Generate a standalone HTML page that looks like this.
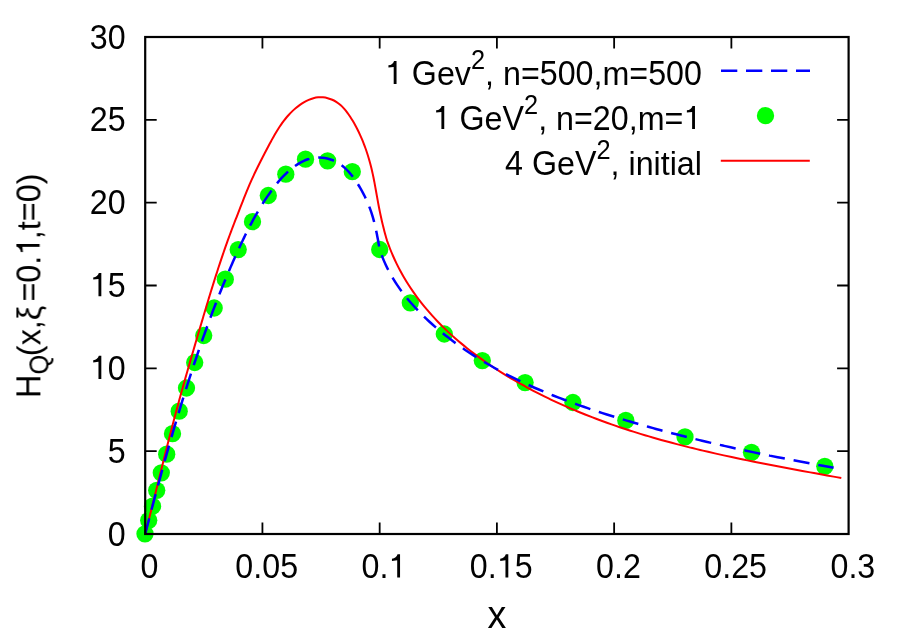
<!DOCTYPE html>
<html><head><meta charset="utf-8"><title>plot</title>
<style>
html,body{margin:0;padding:0;background:#fff;}
body{width:900px;height:631px;overflow:hidden;font-family:"Liberation Sans",sans-serif;}
svg{display:block;}
text{font-family:"Liberation Sans",sans-serif;fill:#000;}
</style></head><body>
<svg width="900" height="631" viewBox="0 0 900 631">
<rect x="0" y="0" width="900" height="631" fill="#fff"/>
<g fill="#00ff00"><circle cx="145.0" cy="533.8" r="8.65"/><circle cx="148.7" cy="520.3" r="8.65"/><circle cx="152.5" cy="506.2" r="8.65"/><circle cx="156.7" cy="490.3" r="8.65"/><circle cx="161.3" cy="472.8" r="8.65"/><circle cx="166.7" cy="454.2" r="8.65"/><circle cx="172.5" cy="433.7" r="8.65"/><circle cx="179.2" cy="411.2" r="8.65"/><circle cx="186.5" cy="388.0" r="8.65"/><circle cx="194.7" cy="362.5" r="8.65"/><circle cx="203.7" cy="335.5" r="8.65"/><circle cx="214.2" cy="308.0" r="8.65"/><circle cx="225.3" cy="279.2" r="8.65"/><circle cx="238.2" cy="249.6" r="8.65"/><circle cx="252.5" cy="221.7" r="8.65"/><circle cx="268.3" cy="195.5" r="8.65"/><circle cx="285.8" cy="174.2" r="8.65"/><circle cx="305.5" cy="159.2" r="8.65"/><circle cx="327.6" cy="160.8" r="8.65"/><circle cx="352.3" cy="171.7" r="8.65"/><circle cx="379.7" cy="249.5" r="8.65"/><circle cx="410.3" cy="302.8" r="8.65"/><circle cx="444.3" cy="334.0" r="8.65"/><circle cx="482.3" cy="360.6" r="8.65"/><circle cx="525.1" cy="382.6" r="8.65"/><circle cx="572.9" cy="402.5" r="8.65"/><circle cx="625.8" cy="420.4" r="8.65"/><circle cx="685.0" cy="436.9" r="8.65"/><circle cx="751.5" cy="452.3" r="8.65"/><circle cx="824.8" cy="466.3" r="8.65"/></g>
<path d="M145.20 534.00C145.41 533.19 146.03 530.76 146.44 529.14C146.85 527.52 147.26 525.90 147.67 524.28C148.08 522.66 148.49 521.04 148.90 519.42C149.31 517.80 149.71 516.18 150.12 514.56C150.53 512.94 150.93 511.32 151.34 509.71C151.74 508.09 152.14 506.47 152.55 504.85C152.95 503.23 153.35 501.61 153.75 499.99C154.15 498.38 154.56 496.76 154.96 495.14C155.36 493.52 155.76 491.91 156.16 490.29C156.56 488.67 156.96 487.05 157.36 485.44C157.76 483.82 158.16 482.20 158.56 480.59C158.96 478.97 159.36 477.35 159.76 475.74C160.17 474.12 160.57 472.51 160.97 470.89C161.37 469.27 161.77 467.66 162.17 466.04C162.58 464.43 162.98 462.81 163.38 461.20C163.79 459.58 164.19 457.97 164.59 456.35C165.00 454.74 165.40 453.12 165.81 451.51C166.22 449.90 166.63 448.28 167.03 446.67C167.44 445.06 167.85 443.44 168.26 441.83C168.67 440.22 169.09 438.60 169.50 436.99C169.91 435.38 170.33 433.77 170.74 432.15C171.16 430.54 171.58 428.93 172.00 427.32C172.42 425.71 172.84 424.10 173.26 422.48C173.68 420.87 174.11 419.26 174.54 417.65C174.96 416.04 175.39 414.43 175.82 412.82C176.25 411.21 176.68 409.60 177.12 407.99C177.55 406.38 177.99 404.77 178.43 403.16C178.86 401.55 179.31 399.95 179.75 398.34C180.19 396.73 180.63 395.12 181.08 393.51C181.52 391.90 181.97 390.30 182.42 388.69C182.87 387.08 183.32 385.47 183.77 383.87C184.22 382.26 184.68 380.65 185.13 379.05C185.59 377.44 186.04 375.84 186.50 374.23C186.96 372.62 187.42 371.02 187.87 369.41C188.33 367.81 188.80 366.20 189.26 364.60C189.72 363.00 190.18 361.39 190.65 359.79C191.11 358.18 191.58 356.58 192.04 354.98C192.51 353.37 192.98 351.77 193.44 350.17C193.91 348.56 194.38 346.96 194.85 345.36C195.32 343.76 195.79 342.16 196.26 340.56C196.73 338.95 197.20 337.35 197.67 335.75C198.15 334.15 198.62 332.55 199.09 330.95C199.56 329.35 200.04 327.75 200.51 326.15C200.98 324.55 201.46 322.95 201.93 321.35C202.40 319.76 202.88 318.16 203.35 316.56C203.83 314.96 204.30 313.36 204.78 311.77C205.26 310.17 205.73 308.57 206.21 306.98C206.69 305.38 207.17 303.79 207.65 302.19C208.13 300.60 208.62 299.00 209.10 297.41C209.59 295.82 210.07 294.22 210.56 292.63C211.05 291.04 211.54 289.45 212.03 287.86C212.53 286.27 213.02 284.68 213.52 283.09C214.02 281.50 214.52 279.91 215.02 278.32C215.52 276.74 216.03 275.15 216.54 273.57C217.05 271.98 217.56 270.40 218.07 268.81C218.59 267.23 219.11 265.65 219.63 264.07C220.15 262.49 220.68 260.91 221.21 259.33C221.74 257.75 222.27 256.17 222.81 254.59C223.34 253.02 223.89 251.44 224.43 249.87C224.98 248.29 225.53 246.72 226.08 245.15C226.64 243.58 227.20 242.01 227.76 240.44C228.33 238.87 228.90 237.31 229.47 235.74C230.05 234.17 230.63 232.61 231.21 231.05C231.80 229.49 232.39 227.92 232.99 226.37C233.58 224.81 234.19 223.25 234.79 221.69C235.39 220.14 236.00 218.58 236.61 217.03C237.22 215.47 237.82 213.92 238.42 212.37C239.03 210.82 239.63 209.28 240.23 207.73C240.83 206.19 241.43 204.64 242.03 203.10C242.64 201.56 243.24 200.02 243.85 198.48C244.46 196.94 245.07 195.40 245.69 193.87C246.31 192.34 246.93 190.80 247.57 189.27C248.20 187.74 248.85 186.22 249.50 184.69C250.16 183.16 250.83 181.64 251.51 180.12C252.19 178.60 252.89 177.08 253.60 175.56C254.30 174.04 255.02 172.53 255.75 171.02C256.47 169.50 257.21 167.99 257.95 166.48C258.70 164.98 259.45 163.47 260.21 161.97C260.97 160.46 261.74 158.96 262.51 157.47C263.28 155.97 264.05 154.47 264.83 152.98C265.61 151.49 266.39 150.00 267.18 148.51C267.96 147.02 268.75 145.53 269.54 144.05C270.33 142.57 271.12 141.10 271.93 139.63C272.74 138.16 273.55 136.70 274.39 135.26C275.22 133.81 276.06 132.38 276.93 130.96C277.80 129.55 278.69 128.14 279.60 126.77C280.52 125.39 281.46 124.02 282.43 122.69C283.40 121.35 284.40 120.03 285.44 118.75C286.48 117.46 287.55 116.20 288.67 114.97C289.78 113.75 290.94 112.55 292.14 111.38C293.34 110.22 294.59 109.09 295.89 108.00C297.19 106.92 298.55 105.85 299.94 104.87C301.33 103.89 302.77 102.95 304.23 102.11C305.70 101.27 307.21 100.50 308.74 99.85C310.26 99.20 311.82 98.63 313.39 98.22C314.96 97.80 316.56 97.49 318.16 97.35C319.75 97.20 321.37 97.20 322.97 97.34C324.56 97.47 326.16 97.75 327.71 98.16C329.27 98.56 330.81 99.10 332.28 99.76C333.76 100.42 335.20 101.21 336.56 102.10C337.93 102.99 339.24 104.00 340.48 105.09C341.73 106.17 342.92 107.37 344.05 108.61C345.18 109.85 346.24 111.18 347.26 112.54C348.29 113.89 349.25 115.31 350.18 116.74C351.12 118.17 352.01 119.64 352.88 121.10C353.75 122.56 354.58 124.04 355.39 125.53C356.20 127.01 356.98 128.51 357.73 130.01C358.49 131.52 359.22 133.03 359.92 134.56C360.62 136.08 361.29 137.61 361.94 139.15C362.60 140.69 363.22 142.24 363.82 143.79C364.43 145.34 365.00 146.91 365.56 148.47C366.12 150.04 366.65 151.62 367.17 153.20C367.68 154.78 368.17 156.37 368.64 157.96C369.12 159.55 369.57 161.15 370.00 162.75C370.44 164.35 370.85 165.96 371.25 167.57C371.64 169.19 372.02 170.80 372.39 172.42C372.75 174.04 373.09 175.66 373.43 177.29C373.76 178.91 374.08 180.54 374.39 182.17C374.70 183.81 375.00 185.44 375.30 187.07C375.60 188.71 375.89 190.35 376.18 191.98C376.47 193.62 376.76 195.26 377.05 196.90C377.34 198.54 377.64 200.18 377.94 201.82C378.24 203.46 378.55 205.10 378.86 206.73C379.18 208.37 379.51 210.01 379.84 211.65C380.18 213.28 380.52 214.92 380.88 216.55C381.23 218.18 381.60 219.81 381.97 221.44C382.35 223.07 382.74 224.69 383.14 226.31C383.54 227.93 383.95 229.55 384.38 231.17C384.80 232.78 385.24 234.39 385.70 236.00C386.15 237.60 386.87 240.00 387.10 240.80C387.57 242.08 388.95 245.97 389.94 248.50C390.94 251.04 391.98 253.54 393.07 256.01C394.15 258.49 395.29 260.93 396.46 263.34C397.64 265.76 398.86 268.14 400.12 270.49C401.38 272.84 402.68 275.17 404.02 277.46C405.37 279.75 406.75 282.02 408.17 284.25C409.60 286.49 411.06 288.70 412.56 290.87C414.05 293.05 415.59 295.20 417.16 297.32C418.73 299.45 420.34 301.54 421.98 303.61C423.62 305.67 425.30 307.71 427.00 309.73C428.71 311.74 430.45 313.72 432.22 315.68C433.99 317.64 435.79 319.57 437.62 321.48C439.45 323.39 441.31 325.27 443.20 327.12C445.08 328.97 447.00 330.80 448.94 332.61C450.88 334.41 452.84 336.19 454.83 337.95C456.82 339.70 458.84 341.43 460.88 343.14C462.91 344.84 464.98 346.52 467.06 348.18C469.14 349.84 471.24 351.47 473.36 353.08C475.48 354.69 477.63 356.28 479.79 357.85C481.95 359.41 484.12 360.95 486.32 362.47C488.51 363.99 490.72 365.49 492.95 366.97C495.17 368.44 497.41 369.90 499.66 371.33C501.92 372.76 504.18 374.17 506.46 375.56C508.74 376.96 511.03 378.33 513.33 379.67C515.63 381.02 517.94 382.35 520.26 383.66C522.57 384.97 524.91 386.26 527.25 387.53C529.59 388.80 531.94 390.05 534.29 391.28C536.65 392.51 539.02 393.72 541.40 394.92C543.78 396.11 546.17 397.29 548.56 398.45C550.96 399.60 553.36 400.74 555.78 401.86C558.19 402.98 560.61 404.09 563.04 405.18C565.47 406.26 567.91 407.33 570.36 408.39C572.80 409.44 575.26 410.48 577.72 411.50C580.18 412.52 582.65 413.52 585.13 414.51C587.60 415.50 590.08 416.47 592.57 417.43C595.06 418.39 597.56 419.33 600.06 420.26C602.57 421.18 605.08 422.10 607.59 423.00C610.11 423.90 612.63 424.78 615.16 425.65C617.69 426.52 620.22 427.38 622.76 428.22C625.30 429.06 627.84 429.89 630.39 430.71C632.94 431.53 635.49 432.33 638.05 433.13C640.61 433.92 643.18 434.70 645.74 435.46C648.31 436.23 650.89 436.99 653.46 437.73C656.04 438.48 658.62 439.21 661.20 439.93C663.79 440.65 666.38 441.36 668.97 442.06C671.56 442.76 674.16 443.45 676.75 444.13C679.35 444.81 681.95 445.48 684.56 446.14C687.16 446.80 689.77 447.45 692.38 448.09C694.98 448.74 697.60 449.37 700.21 449.99C702.82 450.62 705.44 451.23 708.05 451.84C710.67 452.44 713.29 453.04 715.91 453.63C718.53 454.22 721.15 454.81 723.77 455.38C726.40 455.96 729.02 456.53 731.64 457.09C734.27 457.65 736.89 458.21 739.52 458.76C742.14 459.30 744.77 459.85 747.39 460.38C750.02 460.92 752.64 461.45 755.27 461.98C757.89 462.50 760.52 463.02 763.14 463.54C765.76 464.05 768.39 464.56 771.01 465.07C773.63 465.58 776.25 466.08 778.87 466.57C781.49 467.07 784.11 467.57 786.73 468.06C789.34 468.55 791.96 469.03 794.57 469.52C797.18 470.00 799.79 470.48 802.40 470.96C805.01 471.44 807.62 471.91 810.22 472.39C812.82 472.86 815.42 473.33 818.02 473.80C820.62 474.27 823.21 474.74 825.80 475.21C828.39 475.67 830.98 476.14 833.56 476.61C836.14 477.07 840.01 477.77 841.30 478.00" fill="none" stroke="#ff0000" stroke-width="2"/>
<path d="M145.20 534.00C145.41 533.19 146.04 530.76 146.46 529.14C146.88 527.51 147.30 525.89 147.72 524.27C148.15 522.65 148.57 521.03 148.99 519.42C149.42 517.80 149.84 516.18 150.26 514.56C150.69 512.94 151.11 511.33 151.54 509.71C151.97 508.09 152.39 506.48 152.82 504.86C153.25 503.24 153.68 501.63 154.11 500.02C154.54 498.40 154.97 496.79 155.40 495.17C155.83 493.56 156.26 491.95 156.70 490.33C157.13 488.72 157.56 487.11 158.00 485.50C158.44 483.89 158.87 482.28 159.31 480.67C159.75 479.05 160.19 477.44 160.63 475.84C161.07 474.23 161.51 472.62 161.95 471.01C162.39 469.40 162.84 467.79 163.28 466.18C163.73 464.58 164.18 462.97 164.62 461.36C165.07 459.76 165.52 458.15 165.97 456.55C166.42 454.94 166.87 453.34 167.33 451.73C167.78 450.13 168.24 448.52 168.69 446.92C169.15 445.31 169.61 443.71 170.07 442.11C170.53 440.51 170.99 438.90 171.45 437.30C171.92 435.70 172.38 434.10 172.85 432.50C173.32 430.90 173.79 429.30 174.26 427.70C174.73 426.10 175.20 424.50 175.67 422.90C176.15 421.30 176.62 419.70 177.10 418.10C177.58 416.50 178.06 414.91 178.54 413.31C179.02 411.71 179.50 410.11 179.99 408.52C180.47 406.92 180.96 405.33 181.45 403.73C181.94 402.13 182.43 400.54 182.93 398.94C183.42 397.35 183.92 395.75 184.42 394.16C184.91 392.57 185.41 390.97 185.92 389.38C186.42 387.79 186.92 386.19 187.43 384.60C187.94 383.01 188.45 381.42 188.96 379.82C189.47 378.23 189.99 376.64 190.50 375.05C191.02 373.46 191.54 371.87 192.06 370.28C192.58 368.69 193.11 367.10 193.63 365.51C194.16 363.92 194.69 362.33 195.22 360.74C195.75 359.16 196.29 357.57 196.83 355.98C197.36 354.39 197.90 352.80 198.45 351.22C198.99 349.63 199.53 348.05 200.08 346.46C200.63 344.88 201.18 343.29 201.74 341.71C202.29 340.12 202.85 338.54 203.41 336.96C203.96 335.38 204.53 333.80 205.09 332.22C205.66 330.64 206.23 329.06 206.80 327.49C207.37 325.91 207.94 324.33 208.52 322.76C209.10 321.18 209.68 319.61 210.26 318.04C210.85 316.47 211.43 314.90 212.02 313.33C212.61 311.76 213.21 310.19 213.80 308.63C214.40 307.06 215.00 305.50 215.60 303.94C216.20 302.38 216.81 300.82 217.42 299.26C218.03 297.70 218.64 296.15 219.26 294.59C219.87 293.04 220.49 291.49 221.12 289.94C221.74 288.39 222.37 286.84 223.00 285.30C223.63 283.75 224.26 282.21 224.90 280.67C225.54 279.13 226.18 277.59 226.82 276.06C227.47 274.52 228.11 272.99 228.77 271.46C229.42 269.93 230.07 268.40 230.73 266.88C231.39 265.35 232.05 263.83 232.72 262.31C233.39 260.79 234.06 259.28 234.73 257.77C235.41 256.25 236.09 254.74 236.77 253.24C237.45 251.73 238.14 250.23 238.83 248.73C239.52 247.23 240.21 245.73 240.91 244.24C241.61 242.74 242.32 241.25 243.03 239.77C243.74 238.28 244.46 236.79 245.19 235.31C245.92 233.83 246.65 232.36 247.39 230.88C248.14 229.41 248.89 227.94 249.65 226.47C250.42 225.00 251.19 223.54 251.97 222.08C252.76 220.62 253.55 219.16 254.36 217.71C255.17 216.25 255.99 214.80 256.83 213.36C257.67 211.91 258.51 210.47 259.38 209.03C260.24 207.59 261.12 206.15 262.02 204.71C262.92 203.28 263.83 201.85 264.76 200.42C265.69 199.00 266.64 197.57 267.60 196.16C268.57 194.74 269.55 193.32 270.56 191.91C271.56 190.51 272.59 189.10 273.64 187.72C274.68 186.34 275.75 184.97 276.84 183.63C277.93 182.29 279.04 180.96 280.18 179.67C281.31 178.38 282.47 177.11 283.66 175.89C284.84 174.67 286.05 173.47 287.28 172.33C288.52 171.18 289.78 170.07 291.07 169.02C292.36 167.97 293.67 166.96 295.02 166.01C296.36 165.06 297.73 164.16 299.13 163.34C300.53 162.52 301.96 161.75 303.42 161.08C304.88 160.40 306.37 159.80 307.88 159.30C309.40 158.80 310.94 158.38 312.52 158.09C314.09 157.79 315.69 157.59 317.32 157.51C318.95 157.44 320.62 157.49 322.28 157.66C323.94 157.82 325.64 158.11 327.28 158.50C328.92 158.89 330.56 159.40 332.13 160.01C333.70 160.61 335.22 161.33 336.67 162.12C338.13 162.92 339.52 163.82 340.87 164.79C342.21 165.75 343.50 166.81 344.74 167.92C345.98 169.02 347.16 170.21 348.31 171.44C349.46 172.66 350.55 173.96 351.61 175.28C352.68 176.60 353.69 177.97 354.68 179.36C355.66 180.74 356.61 182.17 357.52 183.60C358.44 185.03 359.33 186.48 360.18 187.94C361.04 189.40 361.86 190.87 362.66 192.35C363.45 193.83 364.22 195.32 364.95 196.82C365.69 198.32 366.39 199.83 367.06 201.36C367.74 202.88 368.38 204.41 368.99 205.95C369.60 207.49 370.18 209.04 370.73 210.60C371.28 212.16 371.79 213.73 372.28 215.31C372.77 216.89 373.22 218.47 373.65 220.07C374.09 221.66 374.49 223.26 374.87 224.87C375.25 226.48 375.61 228.10 375.96 229.72C376.31 231.34 376.64 232.97 376.96 234.61C377.28 236.25 377.59 237.89 377.90 239.54C378.20 241.19 378.50 242.84 378.80 244.50C379.10 246.16 379.55 248.67 379.70 249.50C380.15 250.77 381.44 254.62 382.42 257.13C383.40 259.63 384.46 262.09 385.58 264.52C386.70 266.95 387.90 269.33 389.15 271.68C390.40 274.04 391.73 276.35 393.11 278.63C394.48 280.91 395.93 283.15 397.42 285.36C398.91 287.56 400.46 289.73 402.06 291.87C403.65 294.01 405.30 296.11 407.00 298.18C408.69 300.25 410.43 302.29 412.21 304.29C413.98 306.30 415.81 308.27 417.66 310.21C419.51 312.15 421.41 314.06 423.33 315.94C425.25 317.82 427.21 319.67 429.19 321.49C431.17 323.30 433.18 325.09 435.20 326.85C437.23 328.61 439.28 330.35 441.35 332.05C443.42 333.75 445.52 335.43 447.63 337.08C449.74 338.73 451.87 340.35 454.02 341.94C456.17 343.54 458.34 345.11 460.53 346.65C462.71 348.19 464.92 349.71 467.14 351.20C469.37 352.70 471.61 354.17 473.86 355.61C476.12 357.05 478.39 358.47 480.68 359.87C482.97 361.26 485.28 362.64 487.60 363.99C489.91 365.34 492.25 366.66 494.60 367.97C496.94 369.28 499.31 370.56 501.68 371.82C504.06 373.08 506.45 374.33 508.85 375.55C511.25 376.77 513.66 377.97 516.08 379.15C518.51 380.33 520.94 381.49 523.39 382.63C525.83 383.78 528.29 384.90 530.76 386.00C533.22 387.11 535.70 388.20 538.18 389.26C540.67 390.33 543.16 391.39 545.66 392.42C548.17 393.46 550.68 394.48 553.19 395.48C555.71 396.48 558.23 397.47 560.76 398.44C563.29 399.41 565.83 400.37 568.37 401.31C570.92 402.25 573.46 403.18 576.02 404.10C578.57 405.01 581.13 405.91 583.69 406.80C586.25 407.69 588.81 408.56 591.38 409.42C593.95 410.29 596.52 411.14 599.09 411.97C601.66 412.81 604.24 413.64 606.81 414.46C609.39 415.27 611.97 416.08 614.55 416.88C617.12 417.67 619.70 418.46 622.28 419.24C624.86 420.01 627.43 420.78 630.01 421.54C632.59 422.30 635.16 423.05 637.74 423.79C640.31 424.53 642.89 425.27 645.46 425.99C648.03 426.72 650.61 427.44 653.18 428.15C655.75 428.86 658.33 429.56 660.90 430.25C663.48 430.95 666.05 431.63 668.62 432.31C671.20 432.99 673.77 433.66 676.35 434.33C678.93 434.99 681.50 435.65 684.08 436.30C686.66 436.95 689.23 437.59 691.81 438.23C694.39 438.87 696.97 439.50 699.56 440.12C702.14 440.75 704.72 441.36 707.31 441.97C709.89 442.59 712.48 443.19 715.06 443.79C717.65 444.39 720.24 444.98 722.84 445.57C725.43 446.16 728.02 446.74 730.62 447.32C733.22 447.90 735.81 448.47 738.42 449.04C741.02 449.60 743.62 450.17 746.23 450.72C748.84 451.28 751.45 451.83 754.06 452.38C756.67 452.93 759.29 453.47 761.91 454.01C764.53 454.55 767.15 455.08 769.77 455.61C772.40 456.14 775.03 456.67 777.66 457.19C780.30 457.72 782.93 458.23 785.58 458.75C788.22 459.27 790.86 459.78 793.51 460.29C796.16 460.79 798.81 461.30 801.47 461.80C804.13 462.30 806.79 462.80 809.46 463.30C812.13 463.80 814.80 464.29 817.48 464.78C820.15 465.27 822.84 465.76 825.52 466.25C828.21 466.73 832.25 467.46 833.60 467.70" fill="none" stroke="#0000ff" stroke-width="2.5" stroke-dasharray="16.15 8.95"/>
<g stroke="#000" fill="none" stroke-linecap="butt"><rect x="145.2" y="37.0" width="703.4" height="497.0" stroke-width="2.2"/><path d="M262.43 534.00V522.50M262.43 37.00V48.50M379.67 534.00V522.50M379.67 37.00V48.50M496.90 534.00V522.50M496.90 37.00V48.50M614.13 534.00V522.50M614.13 37.00V48.50M731.37 534.00V522.50M731.37 37.00V48.50M145.20 451.17H156.70M848.60 451.17H837.10M145.20 368.33H156.70M848.60 368.33H837.10M145.20 285.50H156.70M848.60 285.50H837.10M145.20 202.67H156.70M848.60 202.67H837.10M145.20 119.83H156.70M848.60 119.83H837.10" stroke-width="1.8"/></g>
<path d="M721 70.8H810" fill="none" stroke="#0000ff" stroke-width="2.5" stroke-dasharray="16.3 8.7"/>
<circle cx="765.5" cy="115.65" r="8.65" fill="#00ff00"/>
<path d="M720.8 160.7H809.8" fill="none" stroke="#ff0000" stroke-width="2"/>
<g opacity="0.999">
<g transform="translate(125.60 545.50)"><text xml:space="preserve" transform="translate(-17.94 0.00) scale(0.9770 1.0350)" font-size="33">0</text></g>
<g transform="translate(125.60 462.67)"><text xml:space="preserve" transform="translate(-17.94 0.00) scale(0.9770 1.0350)" font-size="33">5</text></g>
<g transform="translate(125.60 379.83)"><path transform="translate(-24.27 -0.80) scale(1.000)" d="M0 0V-23.2H-2.5Q-3.7 -19.2 -8.1 -18.8V-16.6L-2.85 -17.2V0Z"/><text xml:space="preserve" transform="translate(-17.95 0.00) scale(0.9770 1.0350)" font-size="33">0</text></g>
<g transform="translate(125.60 297.00)"><path transform="translate(-24.27 -0.80) scale(1.000)" d="M0 0V-23.2H-2.5Q-3.7 -19.2 -8.1 -18.8V-16.6L-2.85 -17.2V0Z"/><text xml:space="preserve" transform="translate(-17.95 0.00) scale(0.9770 1.0350)" font-size="33">5</text></g>
<g transform="translate(125.60 214.17)"><text xml:space="preserve" transform="translate(-35.87 0.00) scale(0.9770 1.0350)" font-size="33">20</text></g>
<g transform="translate(125.60 131.33)"><text xml:space="preserve" transform="translate(-35.87 0.00) scale(0.9770 1.0350)" font-size="33">25</text></g>
<g transform="translate(125.60 48.50)"><text xml:space="preserve" transform="translate(-35.87 0.00) scale(0.9770 1.0350)" font-size="33">30</text></g>
<g transform="translate(149.50 578.30)"><text xml:space="preserve" transform="translate(-8.97 0.00) scale(0.9770 1.0350)" font-size="33">0</text></g>
<g transform="translate(266.73 578.30)"><text xml:space="preserve" transform="translate(-31.38 0.00) scale(0.9770 1.0350)" font-size="33">0.05</text></g>
<g transform="translate(383.97 578.30)"><text xml:space="preserve" transform="translate(-22.41 0.00) scale(0.9770 1.0350)" font-size="33">0.</text><path transform="translate(16.08 -0.80) scale(1.000)" d="M0 0V-23.2H-2.5Q-3.7 -19.2 -8.1 -18.8V-16.6L-2.85 -17.2V0Z"/></g>
<g transform="translate(501.20 578.30)"><text xml:space="preserve" transform="translate(-31.38 0.00) scale(0.9770 1.0350)" font-size="33">0.</text><path transform="translate(7.11 -0.80) scale(1.000)" d="M0 0V-23.2H-2.5Q-3.7 -19.2 -8.1 -18.8V-16.6L-2.85 -17.2V0Z"/><text xml:space="preserve" transform="translate(13.43 0.00) scale(0.9770 1.0350)" font-size="33">5</text></g>
<g transform="translate(618.43 578.30)"><text xml:space="preserve" transform="translate(-22.41 0.00) scale(0.9770 1.0350)" font-size="33">0.2</text></g>
<g transform="translate(735.67 578.30)"><text xml:space="preserve" transform="translate(-31.38 0.00) scale(0.9770 1.0350)" font-size="33">0.25</text></g>
<g transform="translate(852.90 578.30)"><text xml:space="preserve" transform="translate(-22.41 0.00) scale(0.9770 1.0350)" font-size="33">0.3</text></g>
<g transform="translate(702.00 84.90)"><path transform="translate(-305.46 -0.80) scale(1.000)" d="M0 0V-23.2H-2.5Q-3.7 -19.2 -8.1 -18.8V-16.6L-2.85 -17.2V0Z"/><text xml:space="preserve" transform="translate(-290.18 0.00) scale(0.9770 1.0350)" font-size="33">G</text><text xml:space="preserve" transform="translate(-265.10 0.00) scale(0.9770 0.9950)" font-size="33">ev</text><text xml:space="preserve" transform="translate(-231.05 -15.84) scale(0.9770 1.0350)" font-size="26">2</text><text xml:space="preserve" transform="translate(-216.91 0.00) scale(0.9770 0.9950)" font-size="33">, n=</text><text xml:space="preserve" transform="translate(-162.24 0.00) scale(0.9770 1.0350)" font-size="33">500</text><text xml:space="preserve" transform="translate(-108.45 0.00) scale(0.9770 0.9950)" font-size="33">,m=</text><text xml:space="preserve" transform="translate(-53.81 0.00) scale(0.9770 1.0350)" font-size="33">500</text></g>
<g transform="translate(701.30 129.90)"><path transform="translate(-257.05 -0.80) scale(1.000)" d="M0 0V-23.2H-2.5Q-3.7 -19.2 -8.1 -18.8V-16.6L-2.85 -17.2V0Z"/><text xml:space="preserve" transform="translate(-241.78 0.00) scale(0.9770 1.0350)" font-size="33">G</text><text xml:space="preserve" transform="translate(-216.70 0.00) scale(0.9770 0.9950)" font-size="33">e</text><text xml:space="preserve" transform="translate(-198.77 0.00) scale(0.9770 1.0350)" font-size="33">V</text><text xml:space="preserve" transform="translate(-177.25 -15.84) scale(0.9770 1.0350)" font-size="26">2</text><text xml:space="preserve" transform="translate(-163.11 0.00) scale(0.9770 0.9950)" font-size="33">, n=</text><text xml:space="preserve" transform="translate(-108.45 0.00) scale(0.9770 1.0350)" font-size="33">20</text><text xml:space="preserve" transform="translate(-72.59 0.00) scale(0.9770 0.9950)" font-size="33">,m=</text><path transform="translate(-6.33 -0.80) scale(1.000)" d="M0 0V-23.2H-2.5Q-3.7 -19.2 -8.1 -18.8V-16.6L-2.85 -17.2V0Z"/></g>
<g transform="translate(702.00 175.00)"><text xml:space="preserve" transform="translate(-196.94 0.00) scale(0.9770 1.0350)" font-size="33">4</text><text xml:space="preserve" transform="translate(-170.06 0.00) scale(0.9770 1.0350)" font-size="33">G</text><text xml:space="preserve" transform="translate(-144.98 0.00) scale(0.9770 0.9950)" font-size="33">e</text><text xml:space="preserve" transform="translate(-127.06 0.00) scale(0.9770 1.0350)" font-size="33">V</text><text xml:space="preserve" transform="translate(-105.53 -15.84) scale(0.9770 1.0350)" font-size="26">2</text><text xml:space="preserve" transform="translate(-91.40 0.00) scale(0.9770 0.9950)" font-size="33">, initial</text></g>
<g transform="translate(497.00 627.70)"><text xml:space="preserve" transform="translate(-9.40 0.00) scale(0.9770 1.0200)" font-size="38.5">x</text></g>
<g transform="translate(40.40 398.00) rotate(-90)"><text xml:space="preserve" transform="translate(0.00 0.00) scale(0.9810 1.0350)" font-size="33">H</text><text xml:space="preserve" transform="translate(23.39 8.28) scale(0.9810 1.0350)" font-size="26">Q</text><text xml:space="preserve" transform="translate(41.87 0.00) scale(0.9810 0.9950)" font-size="33">(x,</text><text xml:space="preserve" transform="translate(77.84 0.00) scale(0.9810 0.9950)" font-size="33">ξ</text><text xml:space="preserve" transform="translate(96.46 0.00) scale(0.9810 0.9950)" font-size="33">=</text><text xml:space="preserve" transform="translate(115.36 0.00) scale(0.9810 1.0350)" font-size="33">0.</text><path transform="translate(154.01 -0.80) scale(1.000)" d="M0 0V-23.2H-2.5Q-3.7 -19.2 -8.1 -18.8V-16.6L-2.85 -17.2V0Z"/><text xml:space="preserve" transform="translate(158.81 0.00) scale(0.9810 0.9950)" font-size="33">,t=</text><text xml:space="preserve" transform="translate(195.69 0.00) scale(0.9810 1.0350)" font-size="33">0</text><text xml:space="preserve" transform="translate(213.70 0.00) scale(0.9810 0.9950)" font-size="33">)</text></g>
</g>
</svg></body></html>
